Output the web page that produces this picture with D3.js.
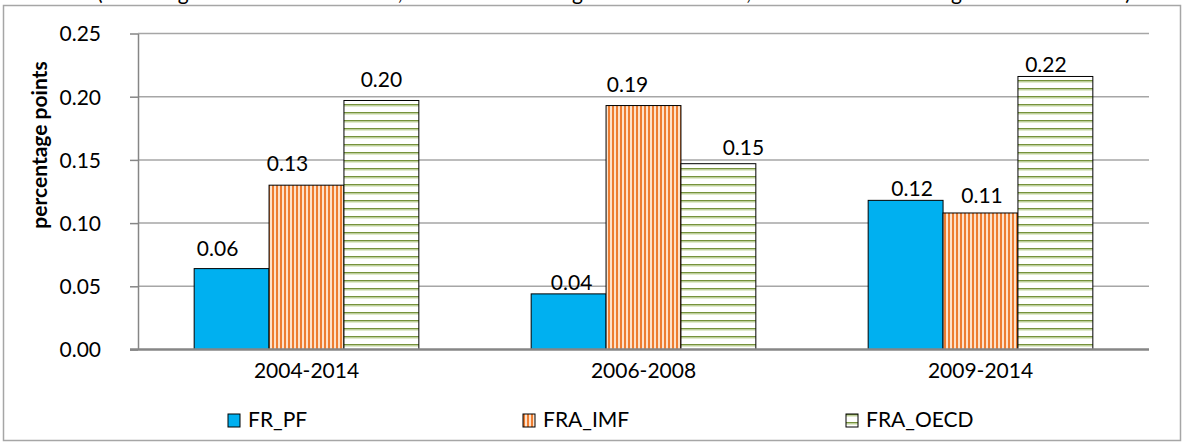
<!DOCTYPE html>
<html>
<head>
<meta charset="utf-8">
<script src="https://cdn.jsdelivr.net/npm/d3@7"></script>
<style>
  html, body { margin: 0; padding: 0; background: #fff; }
  svg { display: block; font-family: Lato, "Open Sans", sans-serif; }
</style>
</head>
<body>
<div id="chart"></div>
<script>
"use strict";

// chart data
const categories = ["2004-2014", "2006-2008", "2009-2014"];
const seriesNames = ["FR_PF", "FRA_IMF", "FRA_OECD"];
const frPf = [0.064, 0.044, 0.118];
const fraImf = [0.130, 0.193, 0.108];
const fraOecd = [0.197, 0.147, 0.216];
const yTicks = [0, 0.05, 0.1, 0.15, 0.2, 0.25];

// labels were nudged by hand in the original, keep those offsets (px)
const LABEL_DX = [[-14, -19, 0], [3, -16, 25], [6.5, 1.5, -9.5]];
const LABEL_LIFT = [[13, 14, 13.6], [3.6, 13.7, 8.3], [4.7, 10, 4.4]];

function _main() {
  const W = 1184, H = 444;
  const PLOT = { left: 138, right: 1149, top: 33.5, bottom: 349.5 };

  const svg = d3.select("#chart").append("svg").attr("width", W).attr("height", H);
  addPatterns(svg);

  // outer chart border
  svg.append("rect")
    .attr("x", 3.5).attr("y", 5.5).attr("width", 1177).attr("height", 435)
    .attr("fill", "#fff").attr("stroke", "#a6a6a6").attr("stroke-width", 1.5);

  addTopText(svg);

  const xScale = d3.scaleBand().domain(categories)
    .range([PLOT.left, PLOT.right]).paddingInner(1 / 3).paddingOuter(1 / 6);
  const xInner = d3.scaleBand().domain(seriesNames).range([0, xScale.bandwidth()]);
  const yScale = d3.scaleLinear().domain([0, 0.25]).range([PLOT.bottom, PLOT.top]);

  // gridlines
  svg.append("g")
    .selectAll("line")
    .data(yTicks.slice(1))
    .enter()
    .append("line")
    .attr("x1", PLOT.left).attr("x2", PLOT.right)
    .attr("y1", (d) => yScale(d)).attr("y2", (d) => yScale(d))
    .attr("stroke", "#a6a6a6").attr("stroke-width", 1.5);

  // y axis
  const yAxis = svg.append("g")
    .attr("transform", `translate(${PLOT.left}, 0)`)
    .call(d3.axisLeft(yScale).tickValues(yTicks).tickFormat(d3.format(".2f"))
      .tickSize(8).tickPadding(29).tickSizeOuter(0));
  yAxis.select(".domain").attr("stroke", "#868686").attr("stroke-width", 1.5);
  yAxis.selectAll(".tick line").attr("stroke", "#868686").attr("stroke-width", 1.5);
  yAxis.selectAll(".tick text")
    .attr("font-family", "Lato").attr("font-size", 21).attr("fill", "#000").attr("dy", "0.35em");

  // bars
  const fills = ["#00b0f0", "url(#pat-imf)", "url(#pat-oecd)"];
  const seriesValues = [frPf, fraImf, fraOecd];
  const barData = [];
  categories.forEach((cat, ci) => {
    seriesNames.forEach((name, si) => {
      barData.push({ cat, name, ci, si, value: seriesValues[si][ci] });
    });
  });

  svg.append("g")
    .selectAll("rect")
    .data(barData)
    .enter()
    .append("rect")
    .attr("x", (d) => xScale(d.cat) + xInner(d.name))
    .attr("y", (d) => yScale(d.value))
    .attr("width", xInner.bandwidth())
    .attr("height", (d) => yScale(0) - yScale(d.value))
    .attr("fill", (d) => fills[d.si])
    .attr("stroke", "#000").attr("stroke-width", 1);

  // value labels
  svg.append("g")
    .selectAll("text")
    .data(barData)
    .enter()
    .append("text")
    .attr("x", (d) => xScale(d.cat) + xInner(d.name) + xInner.bandwidth() / 2 + LABEL_DX[d.ci][d.si])
    .attr("y", (d) => yScale(d.value) - LABEL_LIFT[d.ci][d.si])
    .attr("text-anchor", "middle")
    .attr("font-size", 21)
    .text((d) => d3.format(".2f")(d.value));

  // x axis
  const xAxis = svg.append("g")
    .attr("transform", `translate(0, ${PLOT.bottom})`)
    .call(d3.axisBottom(xScale).tickSize(0).tickPadding(14));
  xAxis.select(".domain").attr("stroke", "#868686").attr("stroke-width", 2.5)
    .attr("d", `M${PLOT.left - 8},0H${PLOT.right}`);
  xAxis.selectAll(".tick text")
    .attr("font-family", "Lato").attr("font-size", 21).attr("fill", "#000")
    .attr("dy", "0.71em");

  // y title
  svg.append("text")
    .attr("transform", "translate(47, 145) rotate(-90)")
    .attr("text-anchor", "middle")
    .attr("font-size", 21).attr("font-weight", "bold")
    .text("percentage points");

  addLegend(svg, fills);
}

function addPatterns(svg) {
  const defs = svg.append("defs");
  const imf = defs.append("pattern").attr("id", "pat-imf")
    .attr("patternUnits", "userSpaceOnUse").attr("width", 4).attr("height", 4);
  imf.append("rect").attr("width", 4).attr("height", 4).attr("fill", "#fde2cb");
  imf.append("rect").attr("width", 2).attr("height", 4).attr("fill", "#ed7d31");

  const oecd = defs.append("pattern").attr("id", "pat-oecd")
    .attr("patternUnits", "userSpaceOnUse").attr("width", 8).attr("height", 8);
  oecd.append("rect").attr("width", 8).attr("height", 8).attr("fill", "#fff");
  oecd.append("rect").attr("width", 8).attr("height", 1.5).attr("fill", "#76923c");
  oecd.append("rect").attr("y", 1.5).attr("width", 8).attr("height", 1).attr("fill", "#c3d69b");
}

function addTopText(svg) {
  // title line cut off by the top edge; only descenders show
  const parts = [
    { x: 97, t: "(all average rate over 2004-2014," },
    { x: 464, t: "boom average rate 2006-2008," },
    { x: 850, t: "crisis average rate 2009-2014)" },
  ];
  svg.append("g")
    .selectAll("text")
    .data(parts)
    .enter()
    .append("text")
    .attr("x", (d) => d.x)
    .attr("y", 0)
    .attr("font-size", 21)
    .text((d) => d.t);
}

function addLegend(svg, fills) {
  const LEGEND_X = [228, 523, 846];
  const g = svg.append("g").selectAll("g")
    .data(seriesNames)
    .enter()
    .append("g")
    .attr("transform", (d, i) => `translate(${LEGEND_X[i]}, 414)`);
  g.append("rect")
    .attr("width", 12).attr("height", 13)
    .attr("fill", (d, i) => fills[i])
    .attr("stroke", "#000").attr("stroke-width", 1);
  g.append("text")
    .attr("x", 20).attr("y", 13)
    .attr("font-size", 21)
    .text((d) => d);
}

_main();
</script>
</body>
</html>
